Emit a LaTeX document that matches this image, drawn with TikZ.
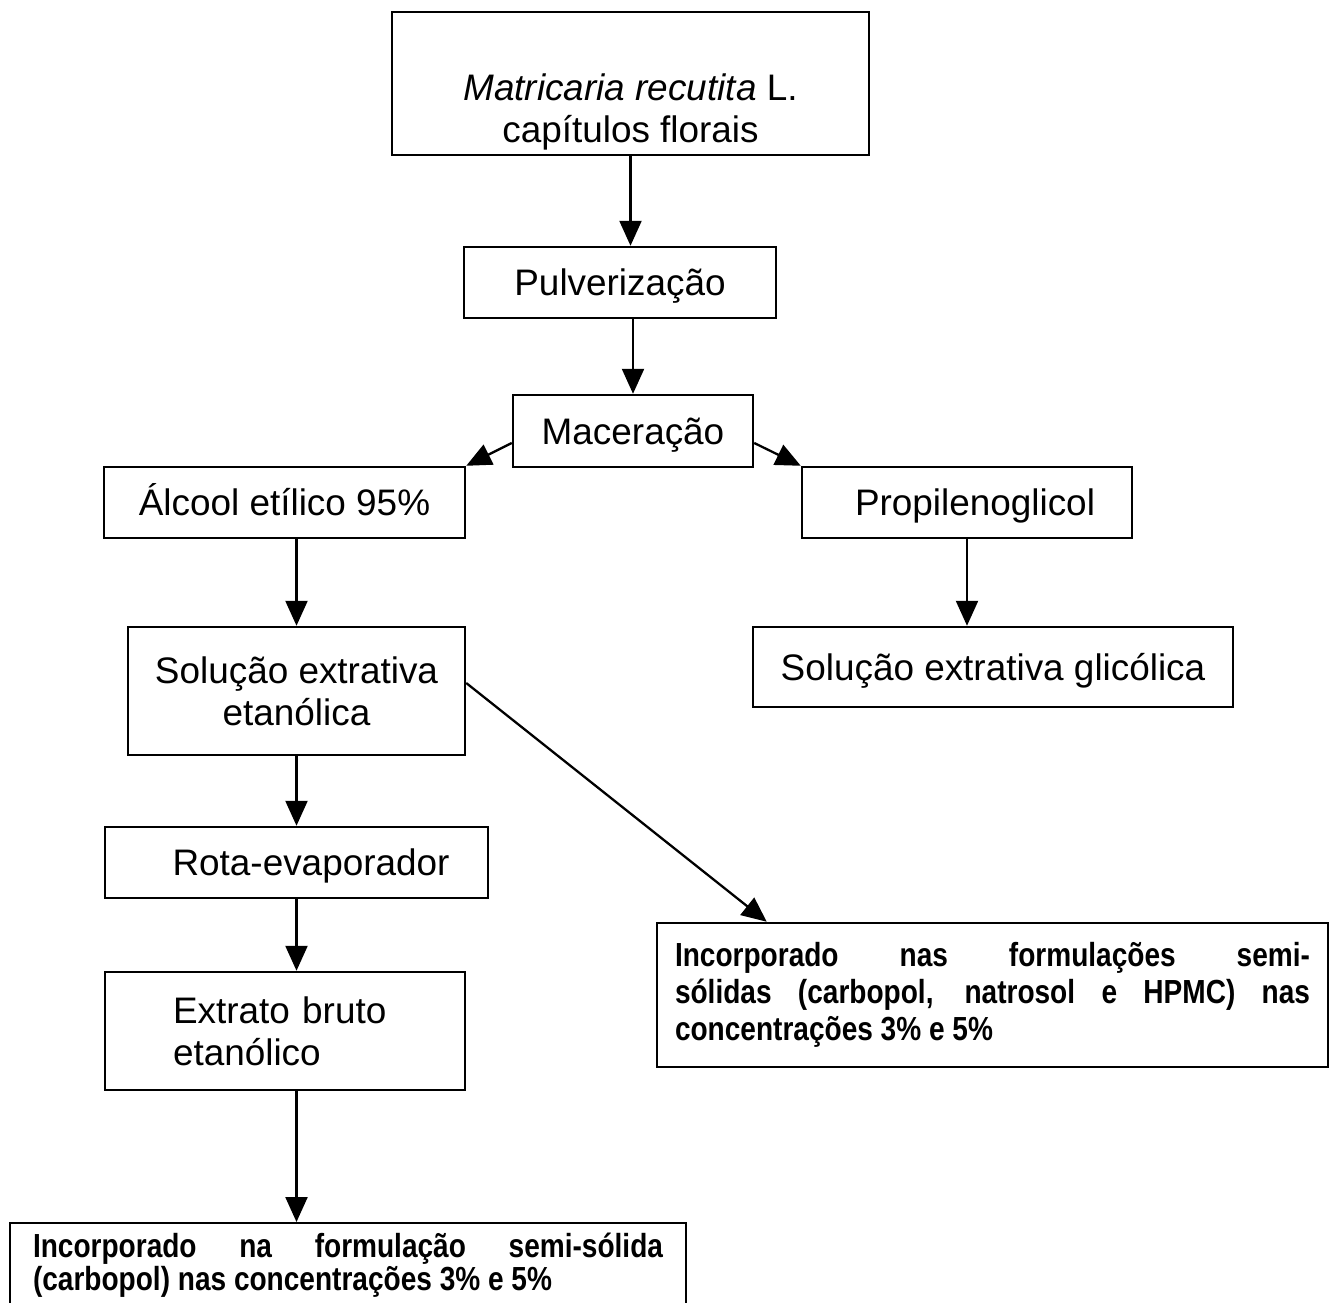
\documentclass[tikz,border=0pt]{standalone}
\usepackage{fontspec}
\setmainfont{Liberation Sans}
\newfontfamily\narrowsans[FakeStretch=0.84]{Liberation Sans}
\usepackage{tikz}
\usetikzlibrary{arrows.meta,positioning,calc}
\definecolor{inkblack}{HTML}{000000}
\tolerance=10000
\hyphenpenalty=10000
\tikzset{
  >={Triangle[length=5mm,width=4.4mm]},
  % caixas
  box/.style={draw=inkblack,line width=1.4pt,inner sep=0pt,align=center,
              font=\fontsize{21}{24}\selectfont},
  one/.style={text height=15pt,text depth=0pt},
  note/.style={draw=inkblack,line width=1.4pt,align=justify,
               font=\narrowsans\bfseries\fontsize{19}{21}\selectfont},
  % setas
  flow/.style={->,draw=inkblack,line width=1.3pt},
}
\begin{document}
\begin{tikzpicture}
\path[use as bounding box,fill=white] (0,0) rectangle (26.68,-26.04);
  \node[box,minimum width=9.54cm,minimum height=2.86cm] (plant) at (12.61,-1.67)
    {\rule{0pt}{1.67cm}\textit{Matricaria recutita} L.\\capítulos florais};
  \node[box,one,minimum width=6.24cm,minimum height=1.42cm] (pulv) at (12.40,-5.65) {Pulverização};
  \node[box,one,minimum width=4.8cm,minimum height=1.44cm] (mac) at (12.66,-8.62) {Maceração};
  \node[box,one,minimum width=7.22cm,minimum height=1.42cm] (alc) at (5.69,-10.05) {Álcool etílico 95\%};
  \node[box,one,minimum width=6.6cm,minimum height=1.42cm] (prop) at (19.34,-10.05) {\hspace*{0.32cm}Propilenoglicol};
  \node[box,minimum width=6.74cm,minimum height=2.56cm] (solu) at (5.93,-13.82) {Solução extrativa\\etanólica};
  \node[box,one,minimum width=9.6cm,minimum height=1.6cm] (glic) at (19.86,-13.34) {Solução extrativa glicólica};
  \node[box,one,minimum width=7.66cm,minimum height=1.42cm] (rota) at (5.93,-17.25) {\hspace*{0.58cm}Rota-evaporador};
  \node[box,align=left,text width=4.48cm,inner xsep=1.36cm,minimum height=2.36cm] (extr) at (5.70,-20.62)
    {Extrato bruto\\etanólico};
  \node[note,text width=12.7cm,inner xsep=0.36cm,minimum height=2.88cm] (rep) at (19.85,-19.90)
    {Incorporado nas formulações semi-\linebreak sólidas (carbopol, natrosol e HPMC) nas\linebreak concentrações 3\% e 5\%};
  \node[note,font=\narrowsans\bfseries\fontsize{19}{16}\selectfont,text width=12.6cm,inner xsep=0.46cm,inner ysep=0.2cm,
        anchor=north] (fin) at (6.96,-24.44)
    {Incorporado na formulação semi-sólida\linebreak (carbopol) nas concentrações 3\% e 5\%};
  \draw[flow] (plant.south) -- (plant.south |- pulv.north);
  \draw[flow] (mac.north |- pulv.south) -- (mac.north);
  \draw[flow] ([yshift=-0.24cm]mac.west) -- (alc.north east);
  \draw[flow] ([yshift=-0.24cm]mac.east) -- (prop.north west);
  \draw[flow] (solu.north |- alc.south) -- (solu.north);
  \draw[flow] (prop.south) -- (prop.south |- glic.north);
  \draw[flow] (solu.south) -- (rota.north);
  \draw[flow] (rota.south) -- (rota.south |- extr.north);
  \draw[flow] (rota.south |- extr.south) -- (rota.south |- fin.north);
  \draw[flow] ([yshift=0.16cm]solu.east) -- ([xshift=2.22cm]rep.north west);
\end{tikzpicture}
\end{document}
